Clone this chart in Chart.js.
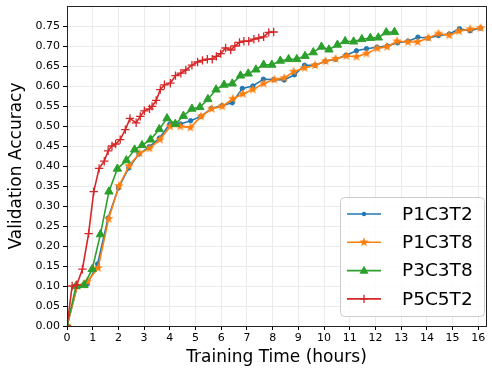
<!DOCTYPE html>
<html>
<head>
<meta charset="utf-8">
<script src="https://cdn.jsdelivr.net/npm/chart.js@4/dist/chart.umd.min.js"></script>
<style>
  html, body { margin: 0; padding: 0; background: #fff; }
  #wrap { width: 492px; height: 370px; position: relative; }
</style>
</head>
<body>
<div id="wrap"><canvas id="accChart"></canvas></div>
<script>
// Series values
const seriesNames = ['P1C3T2', 'P1C3T8', 'P3C3T8', 'P5C5T2'];

const p1c3t2Hours = [0, 0.4, 0.79, 1.19, 1.6, 2.0, 2.4, 2.8, 3.2, 3.6, 4.0, 4.41, 4.81, 5.21, 5.62, 6.03, 6.43, 6.82, 7.23, 7.64, 8.04, 8.45, 8.85, 9.24, 9.65, 10.05, 10.45, 10.85, 11.26, 11.65, 12.06, 12.46, 12.86, 13.26, 13.65, 14.06, 14.45, 14.87, 15.27, 15.68, 16.09];
const p1c3t2Acc = [0, 0.10, 0.105, 0.155, 0.27, 0.345, 0.395, 0.43, 0.448, 0.47, 0.505, 0.505, 0.513, 0.524, 0.544, 0.551, 0.558, 0.594, 0.600, 0.617, 0.616, 0.615, 0.628, 0.652, 0.652, 0.662, 0.667, 0.677, 0.688, 0.693, 0.697, 0.700, 0.708, 0.712, 0.722, 0.720, 0.726, 0.730, 0.743, 0.738, 0.745];

const p1c3t8Hours = [0, 0.4, 0.79, 1.21, 1.62, 2.02, 2.41, 2.82, 3.21, 3.62, 4.01, 4.41, 4.8, 5.22, 5.63, 6.04, 6.45, 6.84, 7.23, 7.65, 8.07, 8.45, 8.82, 9.24, 9.65, 10.06, 10.45, 10.87, 11.26, 11.65, 12.07, 12.45, 12.84, 13.26, 13.64, 14.06, 14.45, 14.87, 15.25, 15.68, 16.09];
const p1c3t8Acc = [0, 0.10, 0.111, 0.145, 0.268, 0.350, 0.400, 0.432, 0.444, 0.466, 0.499, 0.499, 0.496, 0.524, 0.543, 0.549, 0.568, 0.580, 0.591, 0.606, 0.616, 0.620, 0.636, 0.645, 0.652, 0.662, 0.668, 0.675, 0.673, 0.681, 0.694, 0.698, 0.712, 0.710, 0.710, 0.720, 0.731, 0.727, 0.737, 0.742, 0.745];

const p3c3t8Hours = [0, 0.35, 0.66, 0.98, 1.3, 1.63, 1.96, 2.31, 2.63, 2.92, 3.25, 3.59, 3.89, 4.21, 4.53, 4.86, 5.17, 5.48, 5.8, 6.11, 6.43, 6.75, 7.05, 7.35, 7.65, 7.97, 8.3, 8.62, 8.94, 9.26, 9.58, 9.9, 10.19, 10.52, 10.82, 11.15, 11.47, 11.8, 12.11, 12.42, 12.74];
const p3c3t8Acc = [0, 0.10, 0.102, 0.142, 0.229, 0.336, 0.393, 0.414, 0.441, 0.452, 0.466, 0.492, 0.519, 0.505, 0.525, 0.543, 0.547, 0.567, 0.591, 0.603, 0.606, 0.626, 0.631, 0.641, 0.653, 0.653, 0.663, 0.667, 0.667, 0.675, 0.684, 0.698, 0.691, 0.703, 0.712, 0.711, 0.717, 0.720, 0.721, 0.734, 0.735];

const p5c5t2Hours = [0, 0.2, 0.38, 0.6, 0.84, 1.04, 1.25, 1.45, 1.6, 1.75, 1.89, 2.07, 2.27, 2.45, 2.69, 2.85, 3.01, 3.21, 3.31, 3.47, 3.63, 3.79, 4.02, 4.22, 4.43, 4.62, 4.86, 5.08, 5.27, 5.46, 5.65, 5.81, 5.98, 6.17, 6.37, 6.53, 6.71, 6.88, 7.07, 7.27, 7.46, 7.65, 7.85, 8.04];
const p5c5t2Acc = [0, 0.10, 0.103, 0.142, 0.231, 0.336, 0.394, 0.412, 0.438, 0.450, 0.455, 0.466, 0.491, 0.519, 0.508, 0.524, 0.538, 0.543, 0.549, 0.564, 0.591, 0.603, 0.607, 0.626, 0.632, 0.640, 0.652, 0.660, 0.664, 0.667, 0.667, 0.674, 0.681, 0.695, 0.690, 0.700, 0.709, 0.712, 0.712, 0.717, 0.720, 0.723, 0.734, 0.735];

const xTicks = [0, 1, 2, 3, 4, 5, 6, 7, 8, 9, 10, 11, 12, 13, 14, 15, 16];
const yTicks = [0, 0.05, 0.1, 0.15, 0.2, 0.25, 0.3, 0.35, 0.4, 0.45, 0.5, 0.55, 0.6, 0.65, 0.7, 0.75];

const colors = ['#1f77b4', '#ff7f0e', '#2ca02c', '#d62728'];
const FONT = "'DejaVu Sans', sans-serif";

// Build point list from hours + accuracy arrays
function toPoints(xs, ys) {
    return xs.map((x, i) => ({ x: x, y: ys[i] }));
}

// Filled five-point star like matplotlib's '*' marker
function makeStar(color, r) {
    const c = document.createElement('canvas');
    const s = Math.ceil(r * 2 + 2);
    c.width = s; c.height = s;
    const g = c.getContext('2d');
    g.fillStyle = color;
    g.beginPath();
    for (let i = 0; i < 10; i++) {
        const rad = i % 2 === 0 ? r : r * 0.42;
        const a = -Math.PI / 2 + i * Math.PI / 5;
        const px = s / 2 + rad * Math.cos(a);
        const py = s / 2 + rad * Math.sin(a);
        if (i === 0) g.moveTo(px, py); else g.lineTo(px, py);
    }
    g.closePath();
    g.fill();
    return c;
}

const starImg = makeStar(colors[1], 5);

// marker definitions shared between datasets and legend
const markers = [
    { style: 'circle', radius: 2.2 },
    { style: starImg, radius: 5 },
    { style: 'triangle', radius: 4.8 },
    { style: 'cross', radius: 4.2 }
];

const seriesData = [
    toPoints(p1c3t2Hours, p1c3t2Acc),
    toPoints(p1c3t8Hours, p1c3t8Acc),
    toPoints(p3c3t8Hours, p3c3t8Acc),
    toPoints(p5c5t2Hours, p5c5t2Acc)
];

const datasets = seriesNames.map((name, i) => ({
    label: name,
    data: seriesData[i],
    borderColor: colors[i],
    backgroundColor: colors[i],
    borderWidth: 1.6,
    pointStyle: markers[i].style,
    pointRadius: markers[i].radius,
    pointBorderWidth: i === 3 ? 1.3 : 1,
    pointBorderColor: colors[i],
    pointBackgroundColor: colors[i],
    tension: 0,
    fill: false,
    order: 4 - i
}));

// black frame round the plot area (matplotlib spines)
const framePlugin = {
    id: 'frame',
    afterDatasetsDraw(chart) {
        const a = chart.chartArea;
        const ctx = chart.ctx;
        ctx.save();
        ctx.strokeStyle = '#222';
        ctx.lineWidth = 1;
        ctx.strokeRect(Math.round(a.left) + 0.5, Math.round(a.top) + 0.5,
            Math.round(a.right - a.left), Math.round(a.bottom - a.top));
        ctx.restore();
    }
};

// legend box in the lower right of the plot
const legendPlugin = {
    id: 'boxLegend',
    afterDraw(chart) {
        const ctx = chart.ctx;
        const a = chart.chartArea;
        const boxW = 144, boxH = 119;
        const bx = a.right - boxW - 2, by = a.bottom - boxH - 10;
        ctx.save();
        ctx.fillStyle = 'rgba(255,255,255,0.85)';
        ctx.strokeStyle = '#cccccc';
        ctx.lineWidth = 1;
        ctx.beginPath();
        ctx.roundRect(bx + 0.5, by + 0.5, boxW, boxH, 4);
        ctx.fill();
        ctx.stroke();

        chart.data.datasets.forEach((ds, i) => {
            const cy = by + 17 + i * 28.3;
            const x0 = bx + 7, x1 = bx + 41;
            ctx.strokeStyle = ds.borderColor;
            ctx.lineWidth = 1.6;
            ctx.beginPath();
            ctx.moveTo(x0, cy);
            ctx.lineTo(x1, cy);
            ctx.stroke();
            drawMarker(ctx, i, (x0 + x1) / 2, cy, ds.borderColor);
            ctx.fillStyle = '#000';
            ctx.font = '18.5px ' + FONT;
            ctx.textBaseline = 'middle';
            ctx.textAlign = 'left';
            ctx.fillText(ds.label, bx + 62, cy + 1);
        });
        ctx.restore();
    }
};

function drawMarker(ctx, i, x, y, color) {
    const m = markers[i];
    ctx.save();
    ctx.fillStyle = color;
    ctx.strokeStyle = color;
    if (m.style === 'circle') {
        ctx.beginPath();
        ctx.arc(x, y, m.radius, 0, Math.PI * 2);
        ctx.fill();
    } else if (m.style === 'triangle') {
        const r = m.radius;
        ctx.beginPath();
        ctx.moveTo(x, y - r);
        ctx.lineTo(x + r * 0.95, y + r * 0.65);
        ctx.lineTo(x - r * 0.95, y + r * 0.65);
        ctx.closePath();
        ctx.fill();
    } else if (m.style === 'cross') {
        const r = m.radius;
        ctx.lineWidth = 1.3;
        ctx.beginPath();
        ctx.moveTo(x - r, y); ctx.lineTo(x + r, y);
        ctx.moveTo(x, y - r); ctx.lineTo(x, y + r);
        ctx.stroke();
    } else {
        ctx.drawImage(m.style, x - m.style.width / 2, y - m.style.height / 2);
    }
    ctx.restore();
}

const ctx = document.getElementById('accChart');
new Chart(ctx, {
    type: 'line',
    data: { datasets: datasets },
    options: {
        responsive: true,
        maintainAspectRatio: false,
        animation: false,
        events: [],
        layout: { padding: { left: 0, right: 3, top: 6, bottom: 0 } },
        plugins: {
            legend: { display: false },
            tooltip: { enabled: false }
        },
        scales: {
            x: {
                type: 'linear',
                min: 0,
                max: 16.3,
                afterBuildTicks: (scale) => { scale.ticks = xTicks.map(v => ({ value: v })); },
                afterFit: (scale) => {
                    scale.height = 44;
                    scale.paddingLeft = 0;
                    scale.paddingRight = 0;
                },
                grid: { color: '#ebebeb', tickColor: '#000', tickLength: 4, lineWidth: 1 },
                border: { display: false },
                ticks: {
                    color: '#000',
                    font: { family: FONT, size: 11 },
                    padding: 2,
                    maxRotation: 0,
                    autoSkip: false
                },
                title: {
                    display: true,
                    text: 'Training Time (hours)',
                    color: '#000',
                    font: { family: FONT, size: 17 },
                    padding: { top: 0, bottom: 2 }
                }
            },
            y: {
                type: 'linear',
                min: 0,
                max: 0.8,
                afterBuildTicks: (scale) => { scale.ticks = yTicks.map(v => ({ value: v })); },
                afterFit: (scale) => {
                    scale.width = 67;
                    scale.paddingTop = 0;
                    scale.paddingBottom = 0;
                },
                grid: { color: '#ebebeb', tickColor: '#000', tickLength: 4, lineWidth: 1 },
                border: { display: false },
                ticks: {
                    color: '#000',
                    font: { family: FONT, size: 11 },
                    padding: 3,
                    autoSkip: false,
                    callback: (v) => Number(v).toFixed(2)
                },
                title: {
                    display: true,
                    text: 'Validation Accuracy',
                    color: '#000',
                    font: { family: FONT, size: 17 },
                    padding: { top: 6, bottom: 0 }
                }
            }
        }
    },
    plugins: [framePlugin, legendPlugin]
});
</script>
</body>
</html>
